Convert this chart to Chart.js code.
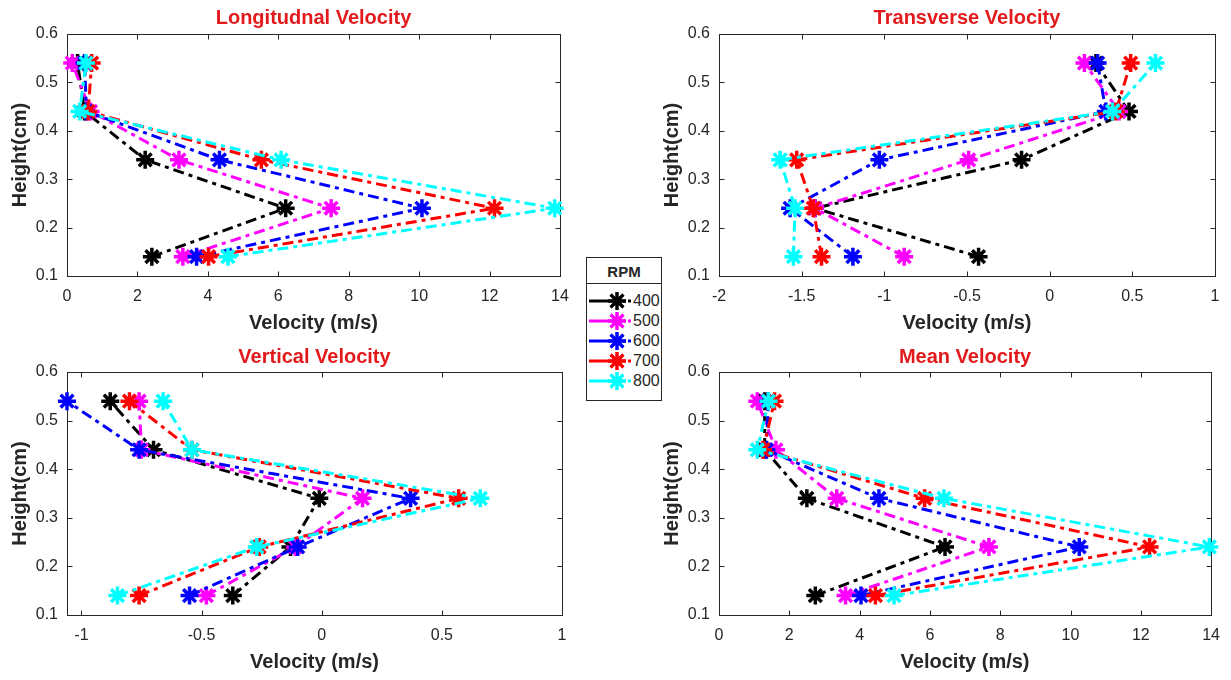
<!DOCTYPE html>
<html>
<head>
<meta charset="utf-8">
<script src="https://cdn.jsdelivr.net/npm/chart.js@4.4.1/dist/chart.umd.min.js"></script>
<style>
  html, body { margin: 0; padding: 0; background: #ffffff; }
  #page { position: relative; width: 1231px; height: 680px; overflow: hidden; background: #fff; }
  canvas.panel { position: absolute; }
  #legend { position: absolute; left: 586px; top: 257px; width: 74px; height: 142px; border: 1px solid #262626; background: #fff; z-index: 10; font-family: "Liberation Sans", Arial, sans-serif; color: #262626; }
  #legend .hdr { height: 25px; line-height: 27px; text-align: center; font-weight: bold; font-size: 15px; border-bottom: 1px solid #262626; }
  #legend .row { position: relative; height: 20px; }
  #legend .row canvas { position: absolute; left: 0; top: 0; }
  #legend .row span { position: absolute; left: 46px; top: 0; line-height: 20px; font-size: 16px; }
</style>
</head>
<body>
<div id="page">
  <canvas id="c0" class="panel"></canvas>
  <canvas id="c1" class="panel"></canvas>
  <canvas id="c2" class="panel"></canvas>
  <canvas id="c3" class="panel"></canvas>
  <div id="legend"><div class="hdr">RPM</div><div id="rows" style="padding-top:7px"></div></div>
</div>
<script>
// ---------------- DATA ----------------
const heights = [0.14, 0.24, 0.34, 0.44, 0.54];
const rpmLabels = ['400', '500', '600', '700', '800'];
const legendTitle = 'RPM';

const panelTitles = ['Longitudnal Velocity', 'Transverse Velocity', 'Vertical Velocity', 'Mean Velocity'];
const xAxisLabel = 'Velocity (m/s)';
const yAxisLabel = 'Height(cm)';

// rows: 400, 500, 600, 700, 800 RPM; columns follow `heights`
const longitudinalVelocity = [
  [2.41, 6.21, 2.22, 0.50, 0.30],
  [3.29, 7.50, 3.18, 0.67, 0.15],
  [3.68, 10.08, 4.33, 0.55, 0.50],
  [4.02, 12.14, 5.52, 0.60, 0.70],
  [4.57, 13.85, 6.08, 0.36, 0.54]
];
const transverseVelocity = [
  [-0.43, -1.42, -0.17, 0.48, 0.28],
  [-0.88, -1.42, -0.49, 0.42, 0.21],
  [-1.19, -1.57, -1.03, 0.34, 0.29],
  [-1.38, -1.43, -1.53, 0.40, 0.49],
  [-1.55, -1.54, -1.63, 0.38, 0.64]
];
const verticalVelocity = [
  [-0.37, -0.13, -0.01, -0.70, -0.88],
  [-0.48, -0.11, 0.17, -0.75, -0.76],
  [-0.55, -0.10, 0.37, -0.76, -1.06],
  [-0.76, -0.26, 0.57, -0.54, -0.80],
  [-0.85, -0.27, 0.66, -0.54, -0.66]
];
const meanVelocity = [
  [2.74, 6.43, 2.50, 1.30, 1.30],
  [3.60, 7.68, 3.35, 1.62, 1.09],
  [4.04, 10.25, 4.55, 1.35, 1.40],
  [4.45, 12.25, 5.85, 1.25, 1.58],
  [4.98, 13.95, 6.40, 1.09, 1.41]
];

const heightTicks = [0.1, 0.2, 0.3, 0.4, 0.5, 0.6];
const longitudinalTicks = [0, 2, 4, 6, 8, 10, 12, 14];
const transverseTicks = [-2, -1.5, -1, -0.5, 0, 0.5, 1];
const verticalTicks = [-1, -0.5, 0, 0.5, 1];
const meanTicks = [0, 2, 4, 6, 8, 10, 12, 14];

const heightRange = [0.1, 0.6];
const longitudinalRange = [0, 14];
const transverseRange = [-2, 1];
const verticalRange = [-1.06, 1];
const meanRange = [0, 14];

// ---------------- STYLE / LAYOUT ----------------
const seriesColors = ['#000000', '#ff00ff', '#0000ff', '#ff0000', '#00ffff'];
const axisColor = '#262626';
const titleColor = '#e31a1c';
const FONT = '"Liberation Sans", Arial, Helvetica, sans-serif';
const dashPattern = [11, 5, 4, 5];

const panels = [
  { id: 'c0', data: longitudinalVelocity, ticks: longitudinalTicks, range: longitudinalRange, title: panelTitles[0],
    canvas: { left: 0, top: 0, w: 600, h: 340 }, area: { l: 67, t: 34, r: 560, b: 276 }, titleY: 18, yLabX: 20, xLabY: 323 },
  { id: 'c1', data: transverseVelocity, ticks: transverseTicks, range: transverseRange, title: panelTitles[1],
    canvas: { left: 640, top: 0, w: 591, h: 340 }, area: { l: 719, t: 34, r: 1215, b: 276 }, titleY: 18, yLabX: 672, xLabY: 323 },
  { id: 'c2', data: verticalVelocity, ticks: verticalTicks, range: verticalRange, title: panelTitles[2],
    canvas: { left: 0, top: 340, w: 600, h: 340 }, area: { l: 67, t: 372, r: 562, b: 615 }, titleY: 357, yLabX: 20, xLabY: 662 },
  { id: 'c3', data: meanVelocity, ticks: meanTicks, range: meanRange, title: panelTitles[3],
    canvas: { left: 640, top: 340, w: 591, h: 340 }, area: { l: 719, t: 372, r: 1215, b: 615 }, titleY: 357, yLabX: 672, xLabY: 662 }
];

const TITLE_SIZE = 20, LABEL_SIZE = 20, TICK_SIZE = 16, LH = 1.2;

// draws axes box and inward tick marks (MATLAB style)
const boxPlugin = {
  id: 'matlabBox',
  beforeDatasetsDraw(chart) {
    const { ctx, chartArea: a, scales } = chart;
    ctx.save();
    ctx.strokeStyle = axisColor;
    ctx.lineWidth = 1;
    const L = Math.round(a.left) + 0.5, R = Math.round(a.right) + 0.5;
    const T = Math.round(a.top) + 0.5, B = Math.round(a.bottom) + 0.5;
    ctx.strokeRect(L, T, R - L, B - T);
    const tl = 5;
    ctx.beginPath();
    scales.x.ticks.forEach(t => {
      const x = Math.round(scales.x.getPixelForValue(t.value)) + 0.5;
      ctx.moveTo(x, B); ctx.lineTo(x, B - tl);
      ctx.moveTo(x, T); ctx.lineTo(x, T + tl);
    });
    scales.y.ticks.forEach(t => {
      const y = Math.round(scales.y.getPixelForValue(t.value)) + 0.5;
      ctx.moveTo(L, y); ctx.lineTo(L + tl, y);
      ctx.moveTo(R, y); ctx.lineTo(R - tl, y);
    });
    ctx.stroke();
    ctx.restore();
  }
};

function fmt(v) { return String(v); }

panels.forEach(p => {
  const cv = document.getElementById(p.id);
  cv.width = p.canvas.w; cv.height = p.canvas.h;
  cv.style.left = p.canvas.left + 'px'; cv.style.top = p.canvas.top + 'px';
  cv.style.width = p.canvas.w + 'px'; cv.style.height = p.canvas.h + 'px';

  const areaTop = p.area.t - p.canvas.top;
  const titleCenter = p.titleY - p.canvas.top;
  const tLine = TITLE_SIZE * LH;
  const tPadTop = titleCenter - tLine / 2;
  const tPadBottom = areaTop - tLine - tPadTop;

  const xH = p.canvas.top + p.canvas.h - p.area.b;
  const lLine = LABEL_SIZE * LH;
  const xTitlePadBottom = xH - (p.xLabY - p.area.b) - lLine / 2;
  const yW = p.area.l - p.canvas.left;
  const yTitlePadTop = (p.yLabX - p.canvas.left) - lLine / 2;
  const rightPad = p.canvas.left + p.canvas.w - p.area.r;

  const datasets = rpmLabels.map((lab, i) => ({
    label: lab,
    data: heights.map((h, k) => ({ x: p.data[i][k], y: h })),
    showLine: true,
    borderColor: seriesColors[i],
    backgroundColor: seriesColors[i],
    borderWidth: 3,
    borderDash: dashPattern,
    pointStyle: 'star',
    pointRadius: 9,
    pointBorderWidth: 3.5,
    pointBorderColor: seriesColors[i],
    pointBackgroundColor: seriesColors[i],
    tension: 0,
    clip: false,
    order: rpmLabels.length - i
  }));

  new Chart(cv, {
    type: 'scatter',
    data: { datasets },
    plugins: [boxPlugin],
    options: {
      responsive: false,
      animation: false,
      devicePixelRatio: 1,
      events: [],
      layout: { padding: { left: 0, right: rightPad, top: 0, bottom: 0 } },
      plugins: {
        legend: { display: false },
        tooltip: { enabled: false },
        title: {
          display: true, text: p.title, fullSize: false, color: titleColor,
          font: { family: FONT, size: TITLE_SIZE, weight: 'bold', lineHeight: LH },
          padding: { top: tPadTop, bottom: tPadBottom }
        }
      },
      scales: {
        x: {
          type: 'linear', position: 'bottom',
          min: p.range[0], max: p.range[1],
          grid: { display: false, drawTicks: false, tickLength: 0 }, border: { display: false },
          afterBuildTicks: s => { s.ticks = p.ticks.map(v => ({ value: v })); },
          afterFit: s => { s.height = xH; },
          ticks: { color: axisColor, padding: 11, maxRotation: 0, autoSkip: false,
                   font: { family: FONT, size: TICK_SIZE, lineHeight: LH }, callback: fmt },
          title: { display: true, text: xAxisLabel, color: axisColor,
                   font: { family: FONT, size: LABEL_SIZE, weight: 'bold', lineHeight: LH },
                   padding: { top: 0, bottom: xTitlePadBottom } }
        },
        y: {
          type: 'linear', position: 'left',
          min: heightRange[0], max: heightRange[1],
          grid: { display: false, drawTicks: false, tickLength: 0 }, border: { display: false },
          afterBuildTicks: s => { s.ticks = heightTicks.map(v => ({ value: v })); },
          afterFit: s => { s.width = yW; },
          ticks: { color: axisColor, padding: 9, autoSkip: false,
                   font: { family: FONT, size: TICK_SIZE, lineHeight: LH }, callback: fmt },
          title: { display: true, text: yAxisLabel, color: axisColor,
                   font: { family: FONT, size: LABEL_SIZE, weight: 'bold', lineHeight: LH },
                   padding: { top: yTitlePadTop, bottom: 0 } }
        }
      }
    }
  });
});

// ---------------- LEGEND ----------------
document.querySelector('#legend .hdr').textContent = legendTitle;
const rows = document.getElementById('rows');
rpmLabels.forEach((lab, i) => {
  const row = document.createElement('div');
  row.className = 'row';
  const c = document.createElement('canvas');
  c.width = 44; c.height = 20;
  row.appendChild(c);
  const sp = document.createElement('span');
  sp.textContent = lab;
  row.appendChild(sp);
  rows.appendChild(row);
  const ctx = c.getContext('2d');
  ctx.strokeStyle = seriesColors[i];
  ctx.lineWidth = 3;
  ctx.setLineDash([24, 3, 10, 2, 10]);
  ctx.beginPath(); ctx.moveTo(2, 10); ctx.lineTo(44, 10); ctx.stroke();
  ctx.setLineDash([]);
  const opts = { pointStyle: 'star', radius: 9, borderWidth: 3.5, rotation: 0 };
  ctx.fillStyle = seriesColors[i];
  if (Chart.helpers && Chart.helpers.drawPoint) {
    Chart.helpers.drawPoint(ctx, opts, 30, 10);
  }
  ctx.stroke();
});
</script>
</body>
</html>
